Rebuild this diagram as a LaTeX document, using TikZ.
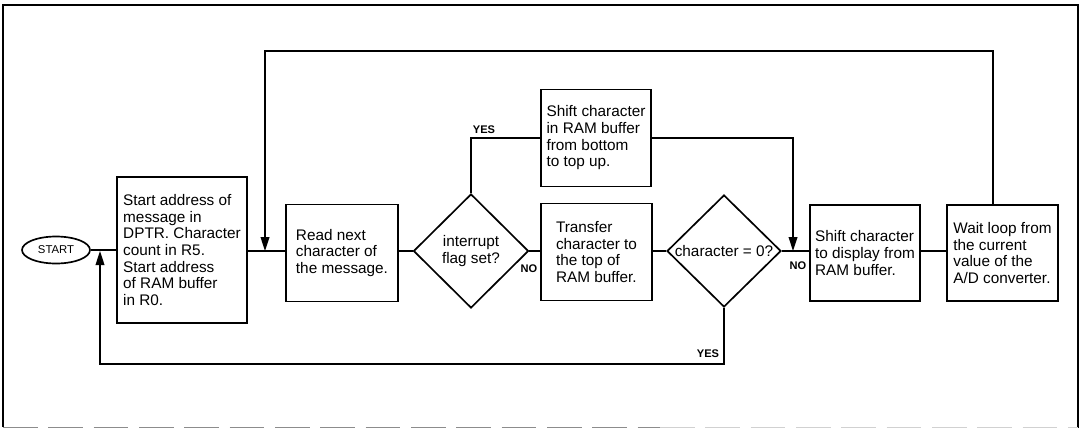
\documentclass[tikz,border=0pt]{standalone}
\usepackage{fontspec}
\setmainfont{Liberation Sans}
\usetikzlibrary{shapes.geometric,arrows.meta}
\begin{document}
\begin{tikzpicture}[x=0.75pt,y=-0.75pt,
  line width=1.25pt,
  box/.style={draw, rectangle, align=left, inner sep=0pt,
    font=\fontsize{11.5}{12.5}\selectfont},
  dia/.style={draw, diamond, aspect=1, align=center, inner sep=0pt,
    font=\fontsize{11.5}{12.5}\selectfont},
  term/.style={draw, ellipse, inner sep=0pt, font=\fontsize{8.5}{9}\selectfont,
    minimum width=51pt, minimum height=20.25pt},
  lbl/.style={inner sep=0pt, font=\fontsize{8.3}{9}\selectfont\bfseries},
  arr/.style={-{Triangle[length=10.5pt,width=6.5pt]}},
  frame/.style={line width=1.25pt},
  fade/.style={line width=0.9pt, dash pattern=on 26pt off 8pt}]
\useasboundingbox (0,0) rectangle (1080,429);
% outer frame
\draw[frame] (3,427) -- (3,5) -- (1078,5) -- (1078,428);
\draw[fade, black!45] (3,427.5) -- (660,427.5);
\draw[fade, black!18] (660,427.5) -- (1078,427.5);

% nodes
\node[term] (start) at (56,250) {START};
\node[box, minimum width=97.5pt, minimum height=109.5pt] (init) at (182,250)
  {Start address of\\message in\\DPTR. Character\\count in R5.\\Start address\\of RAM buffer\\in R0.};
\node[box, minimum width=84pt, minimum height=72.75pt] (read) at (342,253)
  {Read next\\character of\\the message.};
\node[dia, minimum width=86.25pt, minimum height=85.5pt] (intr) at (471,251)
  {interrupt\\flag set?};
\node[box, minimum width=82.5pt, minimum height=72.75pt] (shiftup) at (596,138)
  {Shift character\\in RAM buffer\\from bottom\\to top up.};
\node[box, minimum width=83.25pt, minimum height=72.75pt] (transfer) at (596.5,252)
  {Transfer\\character to\\the top of\\RAM buffer.};
\node[dia, minimum width=85.5pt, minimum height=84pt] (zero) at (724,251)
  {character = 0?};
\node[box, minimum width=82.5pt, minimum height=72pt] (display) at (865,253)
  {Shift character\\to display from\\RAM buffer.};
\node[box, minimum width=83.25pt, minimum height=72pt] (wait) at (1002.5,253)
  {Wait loop from\\the current\\value of the\\A/D converter.};

% junction coordinates
\coordinate (j0) at (100,251);
\coordinate (b0) at (100,364);
\coordinate (j1) at (265,251);
\coordinate (t1) at (265,51);
\coordinate (t2) at (993,51);
\coordinate (j2) at (793,251);

% main flow
\draw (start.east) -- (start.east -| init.west);
\draw (init.east |- j1) -- (read.west |- j1);
\draw (read.east |- intr.west) -- (intr.west);
\draw (intr.east) -- (transfer.west |- intr.east);
\draw (transfer.east |- zero.west) -- (zero.west);
\draw (zero.east) -- (display.west |- zero.east);
\draw (display.east |- zero.east) -- (wait.west |- zero.east);

% YES branch of interrupt
\draw (intr.north) |- (shiftup.west);
\draw[arr] (shiftup.east) -| (j2);

% loop back from wait
\draw[arr] (t2 |- wait.north) -- (t2) -- (t1) -- (j1);

% YES branch of character = 0
\draw[arr] (zero.south) |- (b0) -- (j0);

% labels
\node[lbl] (yes1) at (484,130) {YES};
\node[lbl] (no1) at (529,269) {NO};
\node[lbl] (yes2) at (708,354) {YES};
\node[lbl] (no2) at (798,266) {NO};
\end{tikzpicture}
\end{document}
